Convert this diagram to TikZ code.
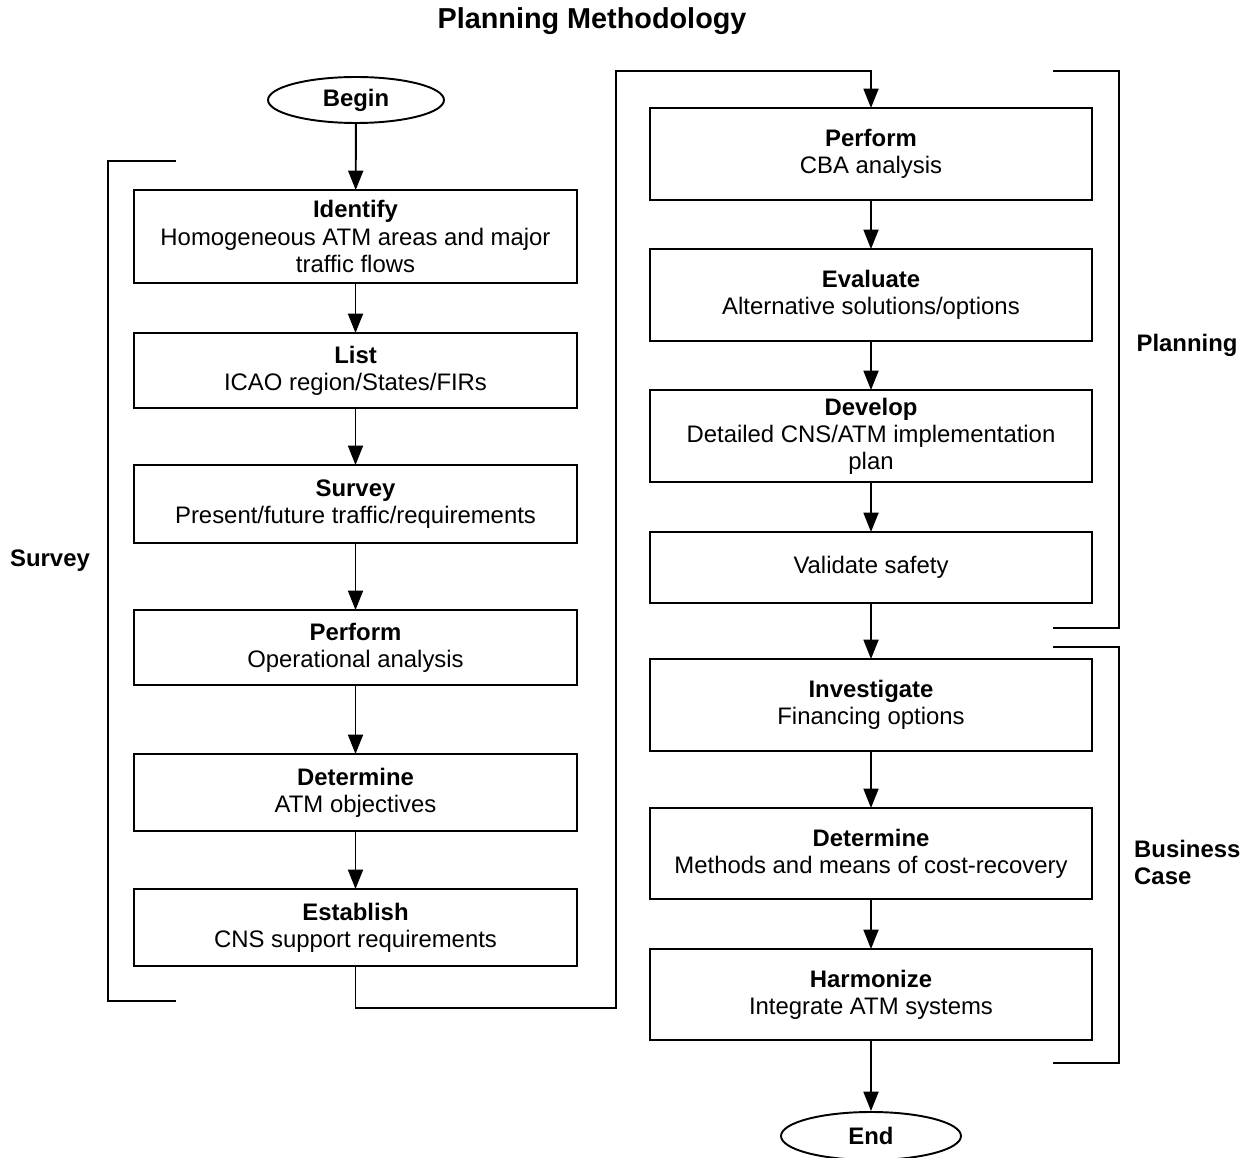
\documentclass[tikz,border=0pt]{standalone}
\usepackage{fontspec}
\setmainfont{Liberation Sans}
\usetikzlibrary{shapes.geometric,arrows.meta}
\begin{document}
\begin{tikzpicture}[x=0.02cm,y=-0.02cm,
  every node/.style={font=\fontsize{13.6}{15.4}\selectfont},
  stepbox/.style={draw,line width=1.1pt,rectangle,minimum width=8.86cm,inner sep=0pt,outer sep=0pt,align=center},
  terminal/.style={draw,line width=1.1pt,ellipse,minimum width=3.52cm,minimum height=0.92cm,inner sep=0pt,font=\fontsize{13.6}{15.4}\selectfont\bfseries},
  flow/.style={line width=1.1pt,-{Triangle[length=11pt,width=8.5pt]}},
  bracket/.style={line width=1.1pt},
  side/.style={font=\fontsize{13.6}{15.4}\selectfont\bfseries,align=left}]
\useasboundingbox (0,0) rectangle (1252,1158);

\node[font=\fontsize{16.4}{19}\selectfont\bfseries] (title) at (592,21) {Planning Methodology};

% survey column
\node[terminal] (begin) at (356,100) {Begin};
\node[stepbox,minimum height=1.86cm] (identify) at (355.5,236.5) {\textbf{Identify}\\Homogeneous ATM areas and major\\traffic flows};
\node[stepbox,minimum height=1.5cm] (list) at (355.5,370.5) {\textbf{List}\\ICAO region/States/FIRs};
\node[stepbox,minimum height=1.56cm] (survey) at (355.5,504) {\textbf{Survey}\\Present/future traffic/requirements};
\node[stepbox,minimum height=1.5cm] (operational) at (355.5,647.5) {\textbf{Perform}\\Operational analysis};
\node[stepbox,minimum height=1.54cm] (objectives) at (355.5,792.5) {\textbf{Determine}\\ATM objectives};
\node[stepbox,minimum height=1.54cm] (establish) at (355.5,927.5) {\textbf{Establish}\\CNS support requirements};

% planning and business case column
\node[stepbox,minimum height=1.84cm] (cba) at (871,154) {\textbf{Perform}\\CBA analysis};
\node[stepbox,minimum height=1.84cm] (evaluate) at (871,295) {\textbf{Evaluate}\\Alternative solutions/options};
\node[stepbox,minimum height=1.84cm] (develop) at (871,436) {\textbf{Develop}\\Detailed CNS/ATM implementation\\plan};
\node[stepbox,minimum height=1.42cm] (validate) at (871,567.5) {Validate safety};
\node[stepbox,minimum height=1.84cm] (investigate) at (871,705) {\textbf{Investigate}\\Financing options};
\node[stepbox,minimum height=1.82cm] (recovery) at (871,853.5) {\textbf{Determine}\\Methods and means of cost-recovery};
\node[stepbox,minimum height=1.82cm] (harmonize) at (871,994.5) {\textbf{Harmonize}\\Integrate ATM systems};
\node[terminal,minimum width=3.6cm,minimum height=0.96cm] (end) at (871,1136) {End};

% connectors
\draw[flow] (begin) -- (identify);
\draw[flow] (identify) -- (list);
\draw[flow] (list) -- (survey);
\draw[flow] (survey) -- (operational);
\draw[flow] (operational) -- (objectives);
\draw[flow] (objectives) -- (establish);
\coordinate (loopA) at (616,1008);
\coordinate (loopB) at (616,71);
\draw[flow] (establish.south) |- (loopA) -- (loopB) -| (cba.north);
\draw[flow] (cba) -- (evaluate);
\draw[flow] (evaluate) -- (develop);
\draw[flow] (develop) -- (validate);
\draw[flow] (validate) -- (investigate);
\draw[flow] (investigate) -- (recovery);
\draw[flow] (recovery) -- (harmonize);
\draw[flow] (harmonize) -- (end);

% phase brackets
\draw[bracket] (176,161) -- (108,161) -- (108,1001) -- (176,1001);
\draw[bracket] (1053,71) -- (1119,71) -- (1119,628) -- (1053,628);
\draw[bracket] (1053,647) -- (1119,647) -- (1119,1063) -- (1053,1063);

\node[side] (surveylabel) at (50,561) {Survey};
\node[side] (planninglabel) at (1187,345) {Planning};
\node[side,anchor=west] (businesslabel) at (1128,862) {Business\\Case};
\end{tikzpicture}
\end{document}
